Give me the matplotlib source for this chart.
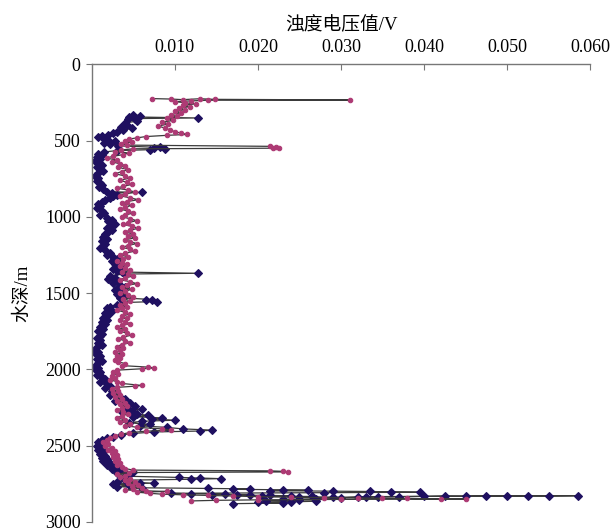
import matplotlib.pyplot as plt
from matplotlib.ticker import FormatStrFormatter

plt.rcParams['font.family'] = ['Liberation Serif', 'Noto Sans CJK SC']

# (depth m, turbidity voltage V) in order
navy_points = [
    (330, .0050), (338, .0058), (345, .0045), (352, .0128), (356, .0052), (362, .0044),
    (372, .0055), (385, .0040), (398, .0042), (410, .0035), (420, .0048), (432, .0038),
    (442, .0030), (452, .0025), (462, .0020), (470, .0012), (478, .0008), (486, .0014),
    (494, .0020), (505, .0028), (515, .0015), (525, .0022), (535, .0032), (545, .0082),
    (550, .0075), (555, .0088), (560, .0070), (566, .0030), (575, .0015), (585, .0008),
    (596, .0012), (608, .0006), (620, .0010), (632, .0004), (645, .0008), (660, .0012),
    (672, .0006), (688, .0010), (700, .0014), (715, .0008), (730, .0004), (748, .0008),
    (762, .0006), (778, .0010), (790, .0012), (805, .0009), (820, .0013), (835, .0018),
    (840, .0060), (845, .0024), (855, .0030), (865, .0026), (875, .0022), (888, .0016),
    (900, .0012), (915, .0008), (930, .0010), (945, .0006), (960, .0012), (975, .0015),
    (990, .0010), (1005, .0018), (1018, .0024), (1030, .0020), (1045, .0028), (1058, .0022),
    (1072, .0018), (1085, .0024), (1100, .0020), (1115, .0016), (1130, .0014), (1145, .0018),
    (1160, .0012), (1175, .0016), (1190, .0014), (1205, .0010), (1220, .0016), (1235, .0022),
    (1250, .0018), (1262, .0026), (1275, .0030), (1288, .0024), (1300, .0032), (1312, .0028),
    (1325, .0034), (1340, .0026), (1352, .0030), (1362, .0036), (1370, .0128), (1375, .0040),
    (1385, .0022), (1398, .0028), (1410, .0020), (1422, .0032), (1435, .0026), (1448, .0034),
    (1460, .0040), (1470, .0030), (1480, .0028), (1492, .0036), (1505, .0030), (1518, .0040),
    (1530, .0034), (1542, .0072), (1548, .0065), (1555, .0078), (1562, .0038), (1575, .0030),
    (1588, .0022), (1600, .0018), (1615, .0024), (1630, .0016), (1645, .0020), (1660, .0014),
    (1675, .0018), (1690, .0012), (1705, .0016), (1720, .0010), (1735, .0014), (1750, .0008),
    (1765, .0012), (1780, .0010), (1795, .0006), (1810, .0010), (1825, .0008), (1840, .0012),
    (1855, .0006), (1870, .0004), (1885, .0008), (1900, .0005), (1915, .0010), (1930, .0006),
    (1945, .0012), (1960, .0008), (1975, .0004), (1990, .0008), (2005, .0005), (2020, .0010),
    (2035, .0006), (2050, .0012), (2065, .0016), (2080, .0010), (2095, .0018), (2110, .0022),
    (2125, .0016), (2140, .0024), (2155, .0030), (2168, .0022), (2180, .0034), (2192, .0040),
    (2205, .0028), (2218, .0046), (2228, .0038), (2240, .0052), (2252, .0042), (2262, .0060),
    (2272, .0048), (2282, .0036), (2292, .0055), (2302, .0068), (2310, .0050), (2318, .0085),
    (2325, .0072), (2333, .0100), (2340, .0060), (2350, .0045), (2360, .0070), (2370, .0058),
    (2380, .0090), (2390, .0110), (2398, .0145), (2404, .0130), (2410, .0075), (2420, .0050),
    (2430, .0035), (2440, .0025), (2452, .0018), (2465, .0012), (2478, .0008), (2490, .0010),
    (2502, .0006), (2515, .0012), (2528, .0008), (2540, .0014), (2552, .0010), (2565, .0016),
    (2578, .0012), (2590, .0018), (2602, .0014), (2615, .0022), (2628, .0018), (2640, .0028),
    (2652, .0024), (2662, .0034), (2672, .0050), (2680, .0030), (2690, .0045), (2700, .0040),
    (2708, .0105), (2712, .0130), (2716, .0155), (2720, .0120), (2726, .0040), (2735, .0030),
    (2742, .0058), (2746, .0075), (2750, .0025), (2760, .0045), (2768, .0030), (2776, .0060),
    (2780, .0140), (2783, .0190), (2786, .0170), (2789, .0230), (2792, .0260), (2795, .0215),
    (2798, .0290), (2800, .0335), (2803, .0360), (2805, .0395), (2808, .0280), (2812, .0095),
    (2815, .0120), (2818, .0160), (2820, .0145), (2822, .0190), (2824, .0175), (2826, .0215),
    (2829, .0240), (2831, .0205), (2833, .0265), (2835, .0250), (2837, .0290), (2838, .0320),
    (2836, .0345), (2834, .0370), (2832, .0400), (2830, .0425), (2831, .0450), (2829, .0475),
    (2830, .0500), (2828, .0525), (2829, .0550), (2828, .0585), (2834, .0330), (2842, .0300),
    (2848, .0270), (2852, .0230), (2856, .0250), (2860, .0210), (2864, .0270), (2868, .0240),
    (2872, .0200), (2876, .0230), (2880, .0170),
]

pink_points = [
    (225, .0072), (228, .0095), (232, .0110), (226, .0130), (230, .0148), (234, .0311),
    (236, .0140), (240, .0120), (245, .0100), (252, .0112), (260, .0125), (268, .0110),
    (278, .0118), (288, .0105), (298, .0112), (308, .0100), (318, .0108), (330, .0095),
    (342, .0102), (355, .0090), (368, .0098), (380, .0085), (392, .0092), (405, .0080),
    (418, .0088), (430, .0094), (442, .0100), (452, .0108), (460, .0115), (466, .0090),
    (474, .0065), (482, .0055), (490, .0045), (500, .0040), (510, .0048), (520, .0035),
    (530, .0042), (538, .0215), (542, .0222), (546, .0218), (550, .0225), (554, .0050),
    (562, .0035), (572, .0028), (582, .0045), (592, .0038), (604, .0025), (615, .0018),
    (628, .0030), (640, .0024), (652, .0034), (664, .0040), (676, .0032), (690, .0044),
    (704, .0036), (718, .0028), (732, .0040), (746, .0046), (760, .0034), (774, .0042),
    (788, .0048), (800, .0038), (812, .0030), (825, .0044), (838, .0052), (850, .0040),
    (862, .0034), (875, .0046), (888, .0056), (900, .0042), (912, .0036), (925, .0048),
    (938, .0040), (950, .0034), (962, .0044), (975, .0050), (988, .0040), (1000, .0036),
    (1012, .0046), (1025, .0054), (1038, .0044), (1050, .0038), (1062, .0048), (1075, .0056),
    (1088, .0046), (1100, .0040), (1112, .0050), (1125, .0044), (1138, .0052), (1150, .0040),
    (1162, .0046), (1175, .0054), (1188, .0044), (1200, .0036), (1212, .0046), (1225, .0052),
    (1238, .0040), (1250, .0034), (1262, .0044), (1275, .0038), (1288, .0030), (1300, .0036),
    (1312, .0042), (1325, .0034), (1338, .0040), (1350, .0046), (1362, .0036), (1375, .0044),
    (1388, .0050), (1400, .0040), (1412, .0034), (1425, .0046), (1438, .0054), (1450, .0042),
    (1462, .0036), (1475, .0048), (1488, .0040), (1500, .0034), (1512, .0044), (1525, .0050),
    (1538, .0038), (1550, .0046), (1562, .0040), (1575, .0034), (1588, .0042), (1600, .0036),
    (1612, .0030), (1625, .0040), (1638, .0046), (1650, .0036), (1662, .0042), (1675, .0034),
    (1688, .0040), (1700, .0046), (1712, .0036), (1725, .0030), (1738, .0040), (1750, .0034),
    (1762, .0042), (1775, .0048), (1788, .0038), (1800, .0032), (1812, .0040), (1825, .0046),
    (1838, .0036), (1850, .0030), (1862, .0038), (1875, .0034), (1888, .0028), (1900, .0036),
    (1912, .0030), (1925, .0034), (1938, .0028), (1950, .0032), (1962, .0040), (1975, .0036),
    (1985, .0068), (1990, .0075), (1996, .0060), (2005, .0030), (2018, .0026), (2030, .0032),
    (2042, .0024), (2055, .0028), (2068, .0022), (2080, .0030), (2092, .0036), (2105, .0060),
    (2110, .0052), (2118, .0030), (2130, .0024), (2142, .0032), (2155, .0026), (2168, .0034),
    (2180, .0028), (2192, .0036), (2205, .0030), (2218, .0040), (2230, .0034), (2242, .0042),
    (2255, .0036), (2268, .0030), (2280, .0038), (2292, .0044), (2305, .0036), (2318, .0030),
    (2330, .0040), (2342, .0034), (2355, .0046), (2368, .0040), (2380, .0055), (2390, .0085),
    (2398, .0095), (2405, .0065), (2415, .0045), (2425, .0035), (2438, .0028), (2450, .0022),
    (2462, .0018), (2475, .0014), (2488, .0020), (2500, .0016), (2512, .0024), (2525, .0020),
    (2538, .0028), (2550, .0024), (2562, .0030), (2575, .0026), (2588, .0032), (2600, .0028),
    (2612, .0034), (2625, .0030), (2638, .0036), (2650, .0040), (2660, .0050), (2665, .0215),
    (2668, .0230), (2672, .0236), (2676, .0045), (2686, .0030), (2696, .0040), (2706, .0034),
    (2716, .0046), (2726, .0040), (2736, .0052), (2746, .0044), (2756, .0056), (2766, .0048),
    (2776, .0060), (2784, .0050), (2790, .0040), (2796, .0065), (2800, .0090), (2805, .0055),
    (2812, .0070), (2818, .0085), (2822, .0110), (2826, .0140), (2830, .0170), (2834, .0200),
    (2838, .0240), (2840, .0280), (2842, .0320), (2844, .0350), (2846, .0380), (2848, .0420),
    (2850, .0450), (2852, .0300), (2855, .0200), (2858, .0150), (2862, .0120),
]

x_ticks = [0.010, 0.020, 0.030, 0.040, 0.050, 0.060]
y_ticks = [0, 500, 1000, 1500, 2000, 2500, 3000]


def draw_profile(ax, points, color, marker, size):
    depth = [p[0] for p in points]
    volt = [p[1] for p in points]
    ax.plot(volt, depth, color='#3a3a3a', lw=0.9, marker=marker, ms=size,
            mfc=color, mec=color, mew=0.8)


def main():
    fig = plt.figure(figsize=(6.16, 5.31), dpi=100)
    ax = fig.add_axes([0.149, 0.017, 0.809, 0.862])

    draw_profile(ax, navy_points, '#1f1060', 'D', 4.0)
    draw_profile(ax, pink_points, '#ad3a74', 'o', 3.2)

    ax.set_xlim(0, 0.060)
    ax.set_ylim(3000, 0)
    ax.set_xticks(x_ticks)
    ax.set_yticks(y_ticks)
    ax.xaxis.set_major_formatter(FormatStrFormatter('%.3f'))
    ax.xaxis.tick_top()
    ax.xaxis.set_label_position('top')

    for side in ['right', 'bottom']:
        ax.spines[side].set_visible(False)
    for side in ['top', 'left']:
        ax.spines[side].set_color('#777777')
        ax.spines[side].set_linewidth(1.0)

    ax.tick_params(axis='x', direction='in', length=4, color='#777777',
                   labelsize=13, pad=6)
    ax.tick_params(axis='y', direction='out', length=4, color='#777777',
                   labelsize=13, pad=4)

    ax.set_xlabel('浊度电压值/V', fontsize=13.5, labelpad=6)
    ax.set_ylabel('水深/m', fontsize=13.5, labelpad=10)

    fig.savefig('out.png', dpi=100)


if __name__ == '__main__':
    main()
